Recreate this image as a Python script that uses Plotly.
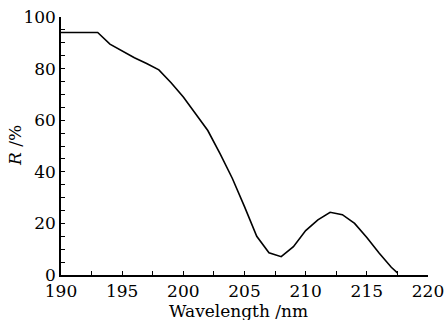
import plotly.graph_objects as go

wavelength = [190, 191, 192, 193, 194, 195, 196, 197, 198, 199, 200, 201, 202, 203, 204,
              205, 206, 207, 208, 209, 210, 211, 212, 213, 214, 215, 216, 217, 217.5]
reflectance = [94, 94, 94.2, 94, 89.5, 86.8, 84.2, 82, 79.5, 74.5, 69, 62.5, 56, 47, 37.5,
               26.5, 15, 8.6, 7.1, 11, 17.2, 21.4, 24.3, 23.4, 20, 14.5, 8.5, 3, 0.8]

x_ticks = [190, 195, 200, 205, 210, 215, 220]
y_ticks = [0, 20, 40, 60, 80, 100]

font_family = "DejaVu Serif"
fsize = 17

fig = go.Figure()
fig.add_trace(go.Scatter(x=wavelength, y=reflectance, mode="lines",
                         line=dict(color="black", width=1.6), showlegend=False))

axis_common = dict(
    showline=True, linecolor="black", linewidth=1.5, mirror=False,
    showgrid=False, zeroline=False, automargin=False,
    ticks="inside", ticklen=4, tickwidth=1.2, tickcolor="black",
    ticklabeloverflow="allow",
    tickfont=dict(family=font_family, size=fsize, color="black"),
)

fig.update_layout(
    width=444, height=320,
    margin=dict(l=61, r=16, t=17, b=45),
    paper_bgcolor="white", plot_bgcolor="white",
    xaxis=dict(range=[190, 220], tickvals=x_ticks, ticklabelstandoff=0,
               minor=dict(dtick=2.5, tick0=190, ticks="inside", ticklen=4, tickcolor="black", tickwidth=1.2),
               **axis_common),
    yaxis=dict(range=[0, 100], tickvals=y_ticks, ticklabelstandoff=0,
               minor=dict(dtick=5, tick0=0, ticks="inside", ticklen=4, tickcolor="black", tickwidth=1.2),
               **axis_common),
    annotations=[
        dict(text="Wavelength /nm", xref="paper", yref="paper", x=0.5, y=0, yshift=-36, xshift=-6,
             xanchor="center", yanchor="middle", showarrow=False,
             font=dict(family=font_family, size=fsize, color="black")),
        dict(text="<i>R</i> /%", xref="paper", yref="paper", x=0, y=0.5, xshift=-46,
             xanchor="center", yanchor="middle", textangle=-90, showarrow=False,
             font=dict(family=font_family, size=fsize, color="black")),
    ],
)

fig.write_html("out.html")
